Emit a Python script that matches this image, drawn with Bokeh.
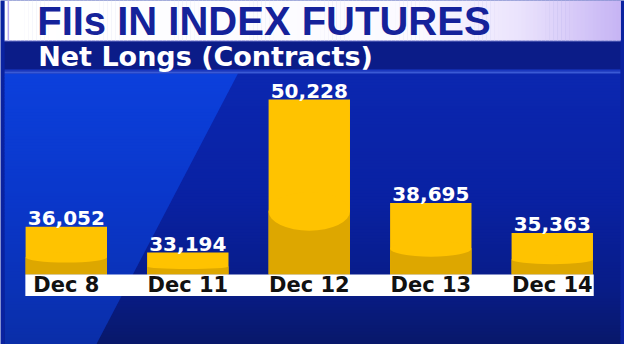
import numpy as np
from bokeh.plotting import figure
from bokeh.models import ColumnDataSource, FactorRange, Range1d, Label
from bokeh.transform import dodge
from bokeh.core.properties import value
from bokeh.embed import file_html
from bokeh.resources import INLINE

# ---------------- data ----------------
title = "FIIs IN INDEX FUTURES"
subtitle = "Net Longs (Contracts)"
dates = ["Dec 8", "Dec 11", "Dec 12", "Dec 13", "Dec 14"]
net_longs = [36052, 33194, 50228, 38695, 35363]

# ---------------- layout / style ----------------
W, H = 624, 344
BASE = 30745            # value at the visible floor of the bars
VAL_LO, VAL_HI = 22952, 61250
PAD = 0.068
BW = 0.67
SHIFT = -0.0264
X0 = -PAD / 2
X1 = len(dates) + PAD / 2


def sx(px):
    """canvas pixel -> synthetic categorical coordinate (decorations only)"""
    return X0 + px * (X1 - X0) / W


def rgb(h):
    return np.array([int(h[i:i + 2], 16) for i in (1, 3, 5)], float)


def ramp(stops, t):
    pos = [s[0] for s in stops]
    cols = [rgb(s[1]) for s in stops]
    for i in range(len(pos) - 1):
        if t <= pos[i + 1]:
            f = (t - pos[i]) / (pos[i + 1] - pos[i])
            c = cols[i] * (1 - f) + cols[i + 1] * f
            break
    else:
        c = cols[-1]
    return "#%02x%02x%02x" % tuple(int(round(v)) for v in c)


cat = FactorRange(factors=dates, range_padding=PAD, range_padding_units="absolute")
p = figure(width=W, height=H, x_range=cat, y_range=Range1d(H, 0),
           x_axis_location=None, y_axis_location=None,
           output_backend="svg", toolbar_location=None, min_border=0,
           outline_line_color=None)
p.grid.visible = False
p.background_fill_color = "#0a22a0"
p.border_fill_color = "#0a22a0"
p.extra_y_ranges = {"val": Range1d(VAL_LO, VAL_HI)}

# ---- main background (vertical gradient + lighter diagonal wedge) ----
right_stops = [(73, "#0b27b0"), (200, "#0921a2"), (290, "#081c86"), (344, "#08186a")]
left_stops = [(73, "#0c40dc"), (200, "#0a37ca"), (290, "#0a32b6"), (344, "#0a2ea8")]


def edge(y):
    return 237 - 0.53 * (y - 72)


ys = list(range(73, 344, 3)) + [344]
rq = dict(t=[], b=[], c=[])
lx, ly, lc = [], [], []
for y0, y1 in zip(ys[:-1], ys[1:]):
    m = (y0 + y1) / 2
    rq["t"].append(y0)
    rq["b"].append(y1 + 0.6)
    rq["c"].append(ramp(right_stops, m))
    lx.append([sx(0), sx(edge(y0)), sx(edge(y1 + 0.6)), sx(0)])
    ly.append([y0, y0, y1 + 0.6, y1 + 0.6])
    lc.append(ramp(left_stops, m))
p.quad(left=sx(0), right=sx(W), top=rq["t"], bottom=rq["b"], fill_color=rq["c"], line_color=None)
p.patches(xs=lx, ys=ly, fill_color=lc, line_color=None)

# ---- title bar (white -> lavender) ----
xs_t = list(range(0, W, 4)) + [W]
tq = dict(l=[], r=[], c=[])
title_stops = [(0, "#ffffff"), (420, "#fbfaff"), (520, "#ebe4fd"), (624, "#c6b4f4")]
for a, b in zip(xs_t[:-1], xs_t[1:]):
    tq["l"].append(sx(a))
    tq["r"].append(sx(b + 0.6))
    tq["c"].append(ramp(title_stops, (a + b) / 2))
p.quad(left=tq["l"], right=tq["r"], top=0, bottom=40, fill_color=tq["c"], line_color=None)
p.quad(left=sx(3), right=sx(4.5), top=0, bottom=40, fill_color="#b9a9ef", line_color=None)
p.quad(left=sx(0), right=sx(W), top=40, bottom=41, fill_color="#d8d0f6", line_color=None)

# ---- subtitle band ----
p.quad(left=sx(0), right=sx(W), top=41, bottom=69, fill_color="#0b1c88", line_color=None)
p.quad(left=sx(0), right=sx(W), top=69, bottom=71, fill_color="#1a38c0", line_color=None)
p.quad(left=sx(0), right=sx(W), top=71, bottom=73, fill_color="#3a5ad6", line_color=None)

p.add_layout(Label(x=sx(33), y=20, text=title, text_font="Liberation Sans",
                   text_font_style="bold", text_font_size="40px", text_color="#15229a",
                   text_baseline="middle"))
p.add_layout(Label(x=sx(34), y=55.5, text=subtitle, text_font="DejaVu Sans",
                   text_font_style="bold", text_font_size="27px", text_color="white",
                   text_baseline="middle"))

# ---- bars ----
src = ColumnDataSource(dict(
    date=dates,
    v=net_longs,
    label=[f"{v:,}" for v in net_longs],
    base=[BASE] * len(dates),
    dark_top=[BASE + 0.36 * (v - BASE) for v in net_longs],
    gloss_h=[2 * 0.11 * (v - BASE) for v in net_longs],
))
xd = dodge("date", SHIFT, range=cat)

p.vbar(x=xd, top="v", bottom="base", width=BW, fill_color="#ffc300", line_color=None,
       source=src, y_range_name="val")
p.vbar(x=xd, top="dark_top", bottom="base", width=BW, fill_color="#dda700", line_color=None,
       source=src, y_range_name="val")
p.ellipse(x=xd, y="dark_top", width=BW, height="gloss_h", fill_color="#ffc300",
          line_color=None, source=src, y_range_name="val")

p.text(x=xd, y="v", text="label", source=src, y_range_name="val",
       text_font=value("DejaVu Sans"), text_font_style="bold", text_font_size="20px",
       text_color="white", text_align="center", text_baseline="middle", y_offset=-9)

# ---- category band ----
p.quad(left=sx(21), right=sx(597), top=274, bottom=295.5, fill_color="white", line_color=None)
p.text(x=xd, y=284.5, text="date", source=src,
       text_font=value("DejaVu Sans"), text_font_style="bold", text_font_size="21px",
       text_color="#111111", text_align="center", text_baseline="middle")

open("out.html", "w").write(file_html(p, INLINE))
